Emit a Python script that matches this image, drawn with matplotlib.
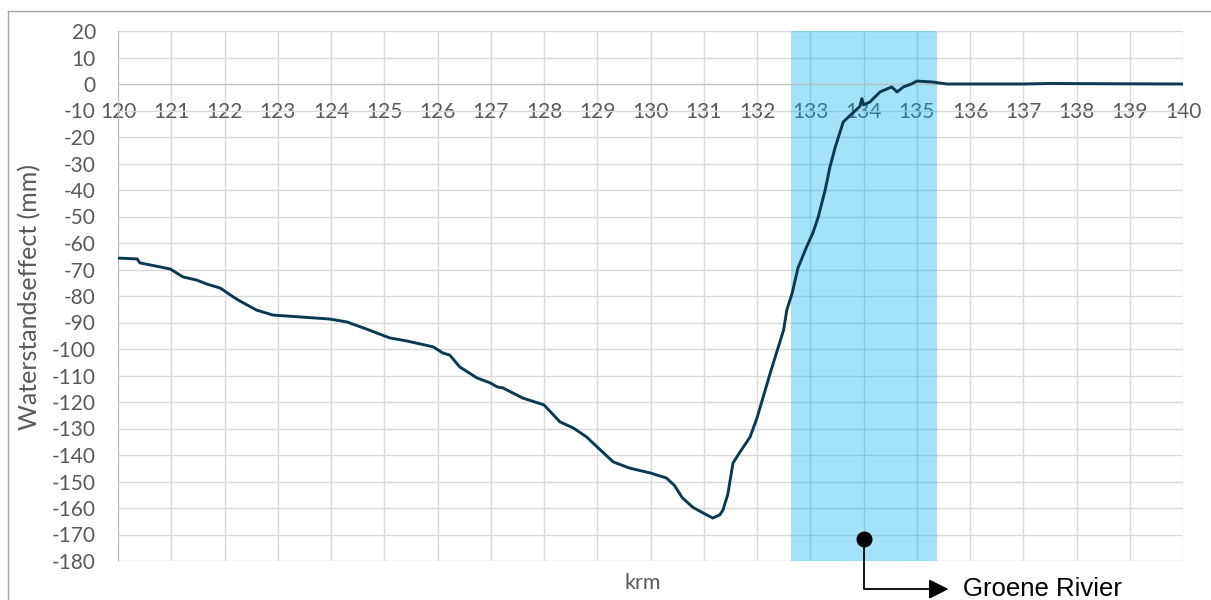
import matplotlib.pyplot as plt
from matplotlib.lines import Line2D

plt.rcParams['axes.unicode_minus'] = False

# waterstandseffect langs de rivier (krm, mm)
krm = [120.0, 120.36, 120.41, 120.98, 121.22, 121.48, 121.67, 121.92, 122.16, 122.29,
       122.6, 122.91, 123.42, 123.98, 124.3, 124.67, 125.1, 125.43, 125.92, 126.1,
       126.23, 126.42, 126.74, 126.99, 127.12, 127.23, 127.6, 128.0, 128.3, 128.55,
       128.8, 129.0, 129.3, 129.6, 130.0, 130.3, 130.45, 130.6, 130.8, 130.99, 131.17,
       131.3, 131.36, 131.45, 131.55, 131.68, 131.87, 132.0, 132.25, 132.5, 132.56,
       132.66, 132.77, 132.93, 133.05, 133.15, 133.28, 133.37, 133.47, 133.62, 133.8,
       133.93, 133.97, 134.0, 134.12, 134.31, 134.53, 134.63, 134.75, 134.9, 135.0,
       135.3, 135.57, 136.0, 137.0, 137.5, 138.5, 140.0]
effect = [-65.7, -66.0, -67.5, -69.8, -72.8, -74.0, -75.5, -77.0, -80.3, -81.9,
          -85.3, -87.2, -87.9, -88.7, -89.8, -92.5, -95.8, -97.0, -99.2, -101.5,
          -102.3, -106.8, -110.9, -112.8, -114.3, -114.7, -118.5, -121.1, -127.5, -129.8,
          -133.2, -137.0, -142.6, -144.9, -146.8, -148.7, -151.5, -156.2, -159.8, -161.9, -163.8,
          -162.6, -160.8, -155.0, -143.0, -138.9, -133.2, -126.0, -109.0, -92.8, -85.3,
          -78.9, -69.4, -61.5, -56.2, -50.2, -40.0, -31.3, -23.8, -14.3, -10.9,
          -8.5, -5.5, -7.9, -6.8, -3.0, -1.1, -3.0, -1.1, 0.0, 1.1,
          0.75, 0.0, 0.0, 0.0, 0.2, 0.1, 0.0]

# Groene Rivier traject
gr_start, gr_end = 132.64, 135.38
gr_punt = (134.0, -171.7)
gr_label = "Groene Rivier"

fig = plt.figure(figsize=(12.11, 6.0), dpi=100)
ax = fig.add_axes([118 / 1211, 39 / 600, 1065 / 1211, 530 / 600])

ax.set_xlim(120, 140)
ax.set_ylim(-180, 20)
ax.set_xticks(range(120, 141))
ax.set_yticks(range(-180, 21, 10))
ax.grid(True, color='#d9d9d9', linewidth=1.0, zorder=0)
ax.set_axisbelow(True)

for s in ['top', 'right']:
    ax.spines[s].set_visible(False)
ax.spines['left'].set_color('#bfbfbf')
ax.spines['bottom'].set_color('#bfbfbf')
ax.spines['bottom'].set_position(('data', 0))
ax.tick_params(length=0, labelsize=15, labelcolor='#595959')
ax.tick_params(axis='x', pad=13)
ax.tick_params(axis='y', pad=16)
for lab in ax.get_xticklabels() + ax.get_yticklabels():
    lab.set_family('Lato')

ax.axvspan(gr_start, gr_end, color='#00b0f0', alpha=0.36, lw=0, zorder=2)
ax.plot(krm, effect, color='#0b3a50', linewidth=2.1, zorder=3)

fig.text(30 / 1211, 1 - 297 / 600, 'Waterstandseffect (mm)', rotation=90,
         ha='center', va='center', fontsize=18, color='#595959', family='Lato')
fig.text(643 / 1211, 1 - 583 / 600, 'krm', ha='center', va='center',
         fontsize=15.5, color='#595959', family='Lato')

# aanwijzing Groene Rivier
ax.plot(*gr_punt, 'o', color='black', markersize=10.5, zorder=5, clip_on=False)
ax.plot([gr_punt[0], gr_punt[0], 135.4], [gr_punt[1], -190.6, -190.6],
        color='black', linewidth=1.3, clip_on=False, zorder=5)
ax.annotate('', xy=(135.65, -190.6), xytext=(135.3, -190.6),
            arrowprops=dict(arrowstyle='-|>', color='black', lw=1.3,
                            mutation_scale=30), annotation_clip=False)
ax.text(135.87, -190.6, gr_label, ha='left', va='center', fontsize=18.5,
        family='Liberation Sans', color='black', clip_on=False)

# kader rond de grafiek
fig.add_artist(Line2D([8 / 1211, 1], [1 - 11 / 600, 1 - 11 / 600], color='#a6a6a6', lw=1))
fig.add_artist(Line2D([8 / 1211, 8 / 1211], [0, 1 - 11 / 600], color='#a6a6a6', lw=1))

fig.savefig('out.png', dpi=100)
